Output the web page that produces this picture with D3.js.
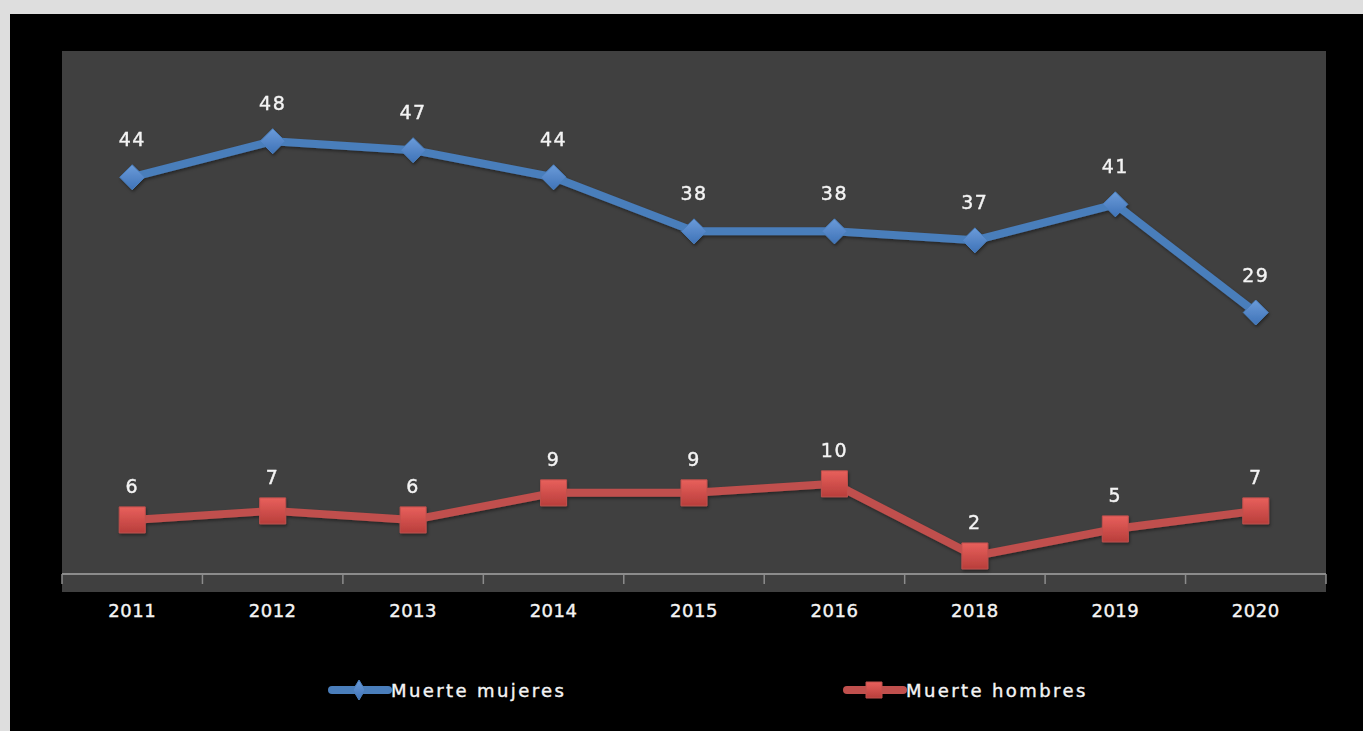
<!DOCTYPE html>
<html>
<head>
<meta charset="utf-8">
<script src="https://cdn.jsdelivr.net/npm/d3@7"></script>
<style>
  html, body { margin: 0; padding: 0; background: #dedede; }
  svg { display: block; }
</style>
</head>
<body>
<svg id="chart" width="1363" height="731"></svg>
<script>
// Yearly deaths by sex
const years = ["2011", "2012", "2013", "2014", "2015", "2016", "2018", "2019", "2020"];
const mujeres = [44, 48, 47, 44, 38, 38, 37, 41, 29];
const hombres = [6, 7, 6, 9, 9, 10, 2, 5, 7];
const seriesNames = ["Muerte mujeres", "Muerte hombres"];

const svg = d3.select("#chart");
const W = 1363, H = 731;
const FONT = "'DejaVu Sans', 'Open Sans', sans-serif";
const TEXT = "#f4f4f4";

// outer black chart frame
svg.append("rect").attr("x", 10).attr("y", 14).attr("width", W - 10).attr("height", H - 14).attr("fill", "#000");

const plot = { left: 62, right: 1326, top: 51, bottom: 574 };

// plot area background
svg.append("rect")
  .attr("x", plot.left).attr("y", plot.top)
  .attr("width", plot.right - plot.left).attr("height", 592 - plot.top)
  .attr("fill", "#404040");

const x = d3.scaleBand().domain(years).range([plot.left, plot.right]).paddingInner(0).paddingOuter(0);
const y = d3.scaleLinear().domain([0, 58]).range([plot.bottom, plot.top]);

const defs = svg.append("defs");
const shadow = defs.append("filter").attr("id", "shadow").attr("x", "-10%").attr("y", "-10%").attr("width", "120%").attr("height", "140%");
shadow.append("feDropShadow").attr("dx", 1).attr("dy", 2).attr("stdDeviation", 1.5).attr("flood-color", "#000").attr("flood-opacity", 0.4);

const gradBlue = defs.append("linearGradient").attr("id", "gBlue").attr("x1", 0).attr("y1", 0).attr("x2", 0).attr("y2", 1);
gradBlue.append("stop").attr("offset", "0%").attr("stop-color", "#6b9bd9");
gradBlue.append("stop").attr("offset", "100%").attr("stop-color", "#3f73b8");
const gradRed = defs.append("linearGradient").attr("id", "gRed").attr("x1", 0).attr("y1", 0).attr("x2", 0).attr("y2", 1);
gradRed.append("stop").attr("offset", "0%").attr("stop-color", "#e8605c");
gradRed.append("stop").attr("offset", "100%").attr("stop-color", "#b83e3b");

function styleText(sel, size, spacing) {
  sel.attr("fill", TEXT)
    .attr("stroke", TEXT).attr("stroke-width", 0.4)
    .attr("font-family", FONT)
    .attr("font-size", size)
    .attr("letter-spacing", spacing);
}

// category axis
const axis = d3.axisBottom(x).tickSize(0).tickPadding(0);
const gAxis = svg.append("g").attr("transform", `translate(0,${plot.bottom})`).call(axis);
gAxis.select(".domain").remove();
gAxis.selectAll("text").attr("y", 30).call(styleText, 18, 0.5);
svg.append("line")
  .attr("x1", plot.left).attr("x2", plot.right)
  .attr("y1", plot.bottom).attr("y2", plot.bottom)
  .attr("stroke", "#8c8c8c").attr("stroke-width", 2);
const boundaries = years.map(d => x(d)).concat([plot.right]);
svg.selectAll("line.tick-mark").data(boundaries).enter().append("line")
  .attr("class", "tick-mark")
  .attr("x1", d => d).attr("x2", d => d)
  .attr("y1", plot.bottom).attr("y2", plot.bottom + 10)
  .attr("stroke", "#8c8c8c").attr("stroke-width", 1.5);

const cx = d => x(d) + x.bandwidth() / 2;
const line = d3.line().x((d, i) => cx(years[i])).y(d => y(d));

function drawSeries(values, color, fill, marker, labelOffset) {
  const g = svg.append("g").attr("filter", "url(#shadow)");
  g.append("path").datum(values)
    .attr("d", line).attr("fill", "none")
    .attr("stroke", color).attr("stroke-width", 8).attr("stroke-linejoin", "round");
  g.selectAll("path.mk").data(values).enter().append("path")
    .attr("class", "mk")
    .attr("transform", (d, i) => `translate(${cx(years[i])},${y(d)})`)
    .attr("d", marker)
    .attr("fill", fill)
    .attr("stroke", color).attr("stroke-width", 1);
  svg.append("g").selectAll("text").data(values).enter().append("text")
    .attr("x", (d, i) => cx(years[i]))
    .attr("y", d => y(d) + labelOffset)
    .attr("text-anchor", "middle")
    .call(styleText, 19, 1.5)
    .text(d => d);
}

const diamond = "M0,-12.5 L12.5,0 L0,12.5 L-12.5,0 Z";
const square = "M-13,-13 L13,-13 L13,13 L-13,13 Z";

drawSeries(mujeres, "#4a7ebb", "url(#gBlue)", diamond, -31);
drawSeries(hombres, "#c0504d", "url(#gRed)", square, -27);

// legend
const legend = [
  { name: seriesNames[0], color: "#4a7ebb", fill: "url(#gBlue)", marker: "M0,-10 L6,0 L0,10 L-6,0 Z", x0: 332 },
  { name: seriesNames[1], color: "#c0504d", fill: "url(#gRed)", marker: "M-8,-8 L8,-8 L8,8 L-8,8 Z", x0: 847 }
];
const lg = svg.append("g").selectAll("g").data(legend).enter().append("g")
  .attr("transform", d => `translate(${d.x0},690)`);
lg.append("line").attr("x1", 0).attr("x2", 56).attr("y1", 0).attr("y2", 0)
  .attr("stroke", d => d.color).attr("stroke-width", 8).attr("stroke-linecap", "round");
lg.append("path").attr("transform", "translate(27,0)").attr("d", d => d.marker)
  .attr("fill", d => d.fill).attr("stroke", d => d.color);
lg.append("text").attr("x", 59).attr("y", 7)
  .call(styleText, 18, 2.4)
  .text(d => d.name);
</script>
</body>
</html>
